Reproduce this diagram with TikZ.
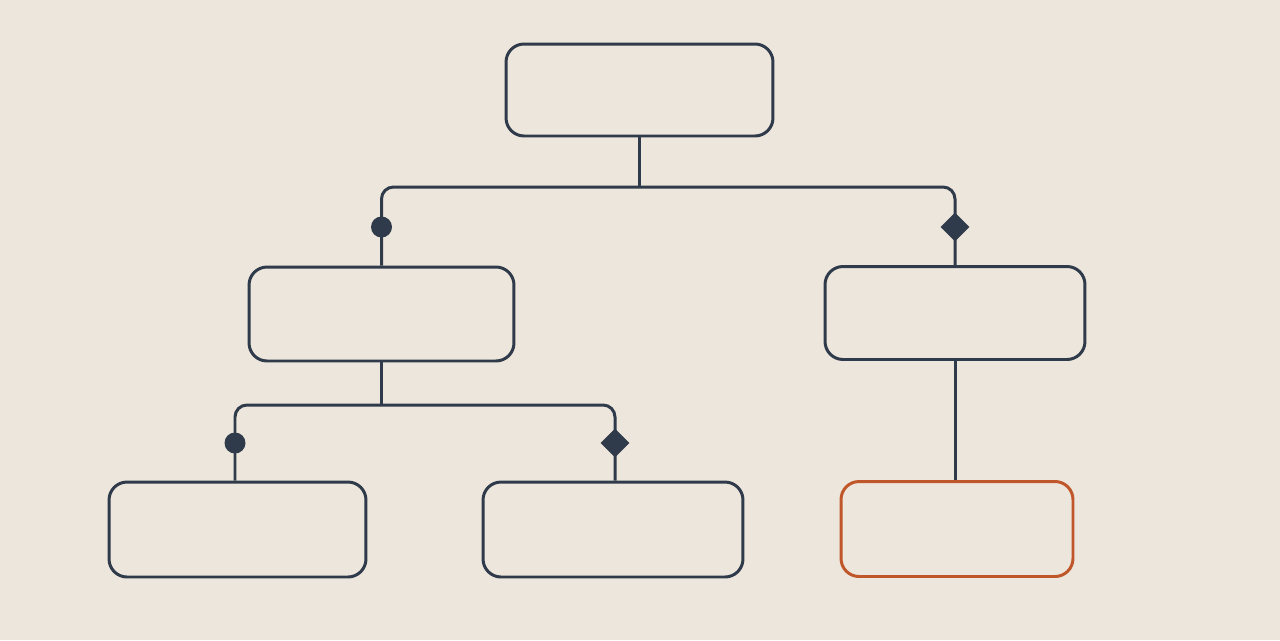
\documentclass[tikz,border=0pt]{standalone}
\usetikzlibrary{shapes.geometric}
\definecolor{paper}{HTML}{EDE6DC}
\definecolor{slate}{HTML}{2F3B4A}
\definecolor{rust}{HTML}{C0572A}
\begin{document}
\begin{tikzpicture}[x=0.02cm, y=-0.02cm,
    line width=1.7pt, draw=slate,
    box/.style={shape=rectangle, rounded corners=0.36cm, draw=slate,
        minimum width=5.2cm, minimum height=1.86cm, inner sep=0pt},
    leaf/.style={box, minimum height=1.9cm},
    hot/.style={leaf, draw=rust, minimum width=4.64cm},
    link/.style={draw=slate, rounded corners=0.24cm},
    dotmark/.style={shape=circle, fill=slate, draw=none, minimum size=0.42cm, inner sep=0pt},
    diamark/.style={shape=diamond, fill=slate, draw=none, minimum size=0.6cm, inner sep=0pt}]
    \fill[paper] (0,0) rectangle (1280,640);
    \useasboundingbox (0,0) rectangle (1280,640);
    % boxes
    \node[box, minimum width=5.34cm, minimum height=1.84cm] (root) at (639.5,90) {};
    \node[box, minimum width=5.3cm, minimum height=1.88cm] (left) at (381.5,314) {};
    \node[box] (right) at (955,313) {};
    \node[leaf, minimum width=5.14cm] (ll) at (237.5,529.5) {};
    \node[leaf] (lr) at (613,529.5) {};
    \node[hot] (rr) at (957,529) {};
    % junctions
    \coordinate (top) at (root.south |- 0,187);
    \coordinate (mid) at (left.south |- 0,405);
    % links
    \draw[link] (root.south) -- (top);
    \draw[link] (left.north) -- (left.north |- top) -- (right.north |- top) -- (right.north);
    \draw[link] (left.south) -- (mid);
    \draw[link] ([xshift=-2.5*0.02cm]ll.north) -- ([xshift=-2.5*0.02cm]ll.north |- mid)
        -- ([xshift=2*0.02cm]lr.north |- mid) -- ([xshift=2*0.02cm]lr.north);
    \draw[link] (right.south) -- (right.south |- rr.north);
    % markers
    \node[dotmark] (m1) at (left.north |- 0,227) {};
    \node[diamark] (m2) at (right.north |- 0,227) {};
    \node[dotmark] (m3) at ([xshift=-2.5*0.02cm]ll.north |- 0,443) {};
    \node[diamark] (m4) at ([xshift=2*0.02cm]lr.north |- 0,443) {};
\end{tikzpicture}
\end{document}
